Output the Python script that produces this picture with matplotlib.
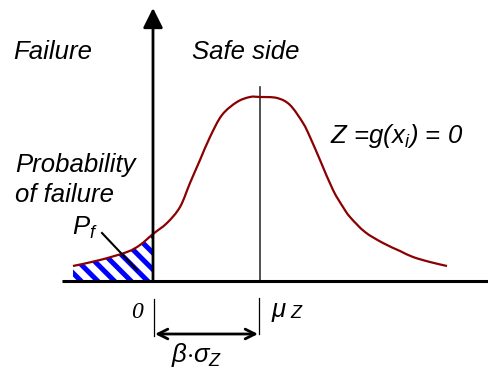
import matplotlib
matplotlib.use("Agg")
import matplotlib.pyplot as plt
from matplotlib.path import Path
from matplotlib.patches import PathPatch
import numpy as np

plt.rcParams['font.family'] = ['Liberation Sans', 'DejaVu Sans']
plt.rcParams['mathtext.fontset'] = 'custom'
plt.rcParams['mathtext.rm'] = 'Liberation Sans'
plt.rcParams['mathtext.it'] = 'Liberation Sans:italic'
plt.rcParams['hatch.linewidth'] = 3.6

# Density curve (pixel-like coordinates, y grows downward)
curve_x = [73, 100, 127, 140, 153, 167, 180, 190, 200, 210, 222, 237, 250, 260,
           277, 290, 303, 310, 320, 333, 343, 350, 365, 383, 400, 413, 430, 447]
curve_y = [266, 260, 252, 245, 234, 223, 207, 183, 160, 137, 115, 102, 97, 97,
           98, 105, 123, 137, 160, 190, 207, 217, 232, 243, 251, 257, 262, 266]

zero_x = 153      # limit state Z = 0
mu_x = 260        # mean of Z
base_y = 281      # horizontal axis

fig = plt.figure(figsize=(4.88, 3.69), dpi=100)
ax = fig.add_axes([0, 0, 1, 1])
ax.set_xlim(0, 488)
ax.set_ylim(369, 0)
ax.axis('off')

cx = np.array(curve_x, float)
cy = np.array(curve_y, float)


def smooth_path(xs, ys):
    """Catmull-Rom through the read points, drawn as cubic Bezier segments."""
    pts = np.column_stack([xs, ys])
    verts = [pts[0]]
    codes = [Path.MOVETO]
    n = len(pts)
    for i in range(n - 1):
        p0 = pts[i - 1] if i > 0 else pts[i]
        p1 = pts[i]
        p2 = pts[i + 1]
        p3 = pts[i + 2] if i + 2 < n else pts[i + 1]
        c1 = p1 + (p2 - p0) / 6.0
        c2 = p2 - (p3 - p1) / 6.0
        verts += [c1, c2, p2]
        codes += [Path.CURVE4] * 3
    return verts, codes


# hatched failure region
m = cx <= zero_x
v, c = smooth_path(cx[m], cy[m])
v = v + [np.array([zero_x, base_y]), np.array([cx[m][0], base_y]), v[0]]
c = c + [Path.LINETO, Path.LINETO, Path.CLOSEPOLY]
ax.add_patch(PathPatch(Path(v, c), facecolor='white', edgecolor='#0000ff',
                       hatch='\\\\', linewidth=0, zorder=1))

# curve
v, c = smooth_path(cx, cy)
ax.add_patch(PathPatch(Path(v, c), facecolor='none', edgecolor='#8b0000', lw=1.6, zorder=3))

# horizontal axis
ax.plot([62, 488], [base_y, base_y], color='black', lw=2.2, zorder=4, solid_capstyle='butt')
# vertical axis with arrow
ax.annotate('', xy=(zero_x, 8), xytext=(zero_x, base_y),
            arrowprops=dict(arrowstyle='-|>,head_length=1.2,head_width=0.6',
                            color='black', lw=2.0, shrinkA=0, shrinkB=0), zorder=5)
# mean line
ax.plot([mu_x, mu_x], [87, base_y], color='#333333', lw=1.2, zorder=2)

# ticks below
ax.plot([zero_x + 1, zero_x + 1], [299, 336], color='black', lw=0.9)
ax.plot([mu_x - 1, mu_x - 1], [298, 334], color='black', lw=0.9)
# beta sigma arrow
ax.annotate('', xy=(155, 334), xytext=(258, 334),
            arrowprops=dict(arrowstyle='<->,head_length=0.7,head_width=0.35',
                            color='black', lw=2.0, shrinkA=0, shrinkB=0))

# leader line
ax.plot([102, 137], [233, 270], color='black', lw=1.5, zorder=6)

fs = 18.5
ax.text(13, 59, 'Failure', fontsize=fs, style='italic', va='baseline', ha='left')
ax.text(192, 59, 'Safe side', fontsize=fs, style='italic', va='baseline', ha='left')
ax.text(330, 143, 'Z =g(x$_i$) = 0', fontsize=fs, style='italic', va='baseline', ha='left')
ax.text(15, 172, 'Probability', fontsize=fs, style='italic', va='baseline', ha='left')
ax.text(15, 202, 'of failure', fontsize=fs, style='italic', va='baseline', ha='left')
ax.text(72, 235, '$P_f$', fontsize=fs, va='baseline', ha='left')
ax.text(131, 318, '0', fontsize=17, family='Liberation Serif', style='italic',
        va='baseline', ha='left')
ax.text(271, 317, '$\\mu$', fontsize=fs, va='baseline', ha='left')
ax.text(290, 318, 'Z', fontsize=13, style='italic', va='baseline', ha='left')
ax.text(171, 362, '$\\beta{\\cdot}\\sigma_Z$', fontsize=fs, va='baseline', ha='left')

fig.savefig('out.png', dpi=100)
